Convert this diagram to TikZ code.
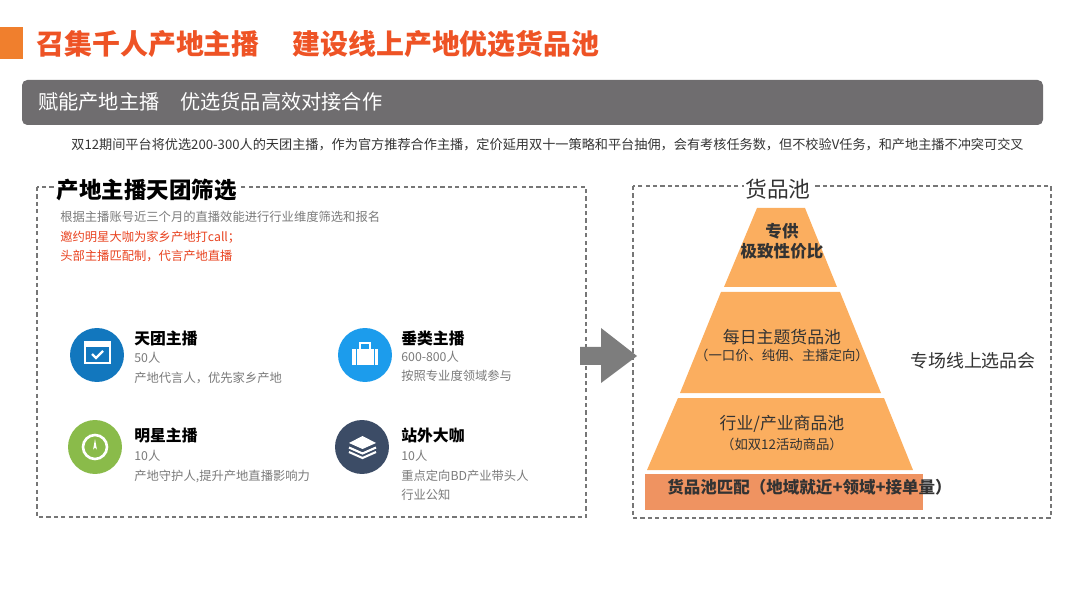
\documentclass[tikz,border=0pt]{standalone}
\usepackage{fontspec}
\setmainfont{Noto Sans CJK SC}
\usepackage{xcolor}
\usetikzlibrary{positioning}
\definecolor{titleorange}{HTML}{F07F2D}
\definecolor{titlered}{HTML}{EE5325}
\definecolor{bandgray}{HTML}{6F6D6F}
\definecolor{dashgray}{HTML}{767676}
\definecolor{textgray}{HTML}{7A7A7A}
\definecolor{noteblack}{HTML}{333333}
\definecolor{alertred}{HTML}{E8421F}
\definecolor{tierorange}{HTML}{FBAE5F}
\definecolor{baseorange}{HTML}{EF9361}
\definecolor{iconblue}{HTML}{1277BE}
\definecolor{iconsky}{HTML}{1C9CEC}
\definecolor{icongreen}{HTML}{8ABB4A}
\definecolor{iconslate}{HTML}{3C4C66}
\definecolor{arrowgray}{HTML}{7D7D7D}

\begin{document}
\begin{tikzpicture}[
    x=0.02cm, y=-0.02cm,
    panel/.style={dashgray, line width=0.95pt, dash pattern=on 2.4pt off 1.8pt},
    small/.style={font=\fontsize{7}{9}\selectfont, text=textgray, anchor=west, inner sep=0pt},
    head/.style={font=\fontsize{9}{11}\selectfont\bfseries, text=black, anchor=west, inner sep=0pt},
    tier/.style={font=\fontsize{9.6}{11}\selectfont, text=noteblack, inner sep=0pt},
    tiersub/.style={font=\fontsize{7.6}{9}\selectfont, text=noteblack, inner sep=0pt},
    tierbold/.style={font=\fontsize{9.4}{11}\selectfont\bfseries, text=noteblack, inner sep=0pt},
    badge/.style={circle, minimum size=1.08cm, inner sep=0pt},
    iconline/.style={white, line width=0.7pt},
]
\useasboundingbox (0,0) rectangle (1080,608);

% Title
\fill[titleorange] (0,27) rectangle (23,59);
\node[font=\fontsize{15.9}{18}\selectfont\bfseries, text=titlered, anchor=west, inner sep=0pt] (title) at (36,44) {召集千人产地主播};
\node[font=\fontsize{15.9}{18}\selectfont\bfseries, text=titlered, anchor=west, inner sep=0pt] (subject) at (292,44) {建设线上产地优选货品池};

% Band
\fill[bandgray, rounded corners=3pt] (22,80) rectangle (1043,125);
\node[font=\fontsize{11.5}{14}\selectfont, text=white, anchor=west, inner sep=0pt] (band) at (38,102) {赋能产地主播};
\node[font=\fontsize{11.5}{14}\selectfont, text=white, anchor=west, inner sep=0pt] (bandb) at (180,102) {优选货品高效对接合作};
\node[font=\fontsize{7.49}{9}\selectfont, text=noteblack, anchor=west, inner sep=0pt] (note) at (71,145) {双12期间平台将优选200-300人的天团主播，作为官方推荐合作主播，定价延用双十一策略和平台抽佣，会有考核任务数，但不校验V任务，和产地主播不冲突可交叉};

% Left panel
\draw[panel] (37,187) rectangle (586,517);
\node[font=\fontsize{12.8}{15}\selectfont\bfseries, text=black, fill=white, inner ysep=0pt, inner xsep=1.5pt, anchor=west] (filter) at (54,190) {产地主播天团筛选};
\node[small] (rule) at (60,217) {根据主播账号近三个月的直播效能进行行业维度筛选和报名};
\node[small, text=alertred] (invite) at (60,237) {邀约明星大咖为家乡产地打call；};
\node[small, text=alertred] (match) at (60,256) {头部主播匹配制，代言产地直播};

% Four groups
\node[badge, fill=iconblue] (tuan) at (97,355) {};
\node[head] (tuanh) at (134,338) {天团主播};
\node[small] (tuana) at (134,358) {50人};
\node[small] (tuanb) at (134,378) {产地代言人，优先家乡产地};

\node[badge, fill=iconsky] (chui) at (365,355) {};
\node[head] (chuih) at (401,338) {垂类主播};
\node[small] (chuia) at (401,357) {600-800人};
\node[small] (chuib) at (401,376) {按照专业度领域参与};

\node[badge, fill=icongreen] (star) at (95,447) {};
\node[head] (starh) at (134,436) {明星主播};
\node[small] (stara) at (134,456) {10人};
\node[small] (starb) at (134,476) {产地守护人,提升产地直播影响力};

\node[badge, fill=iconslate] (out) at (362,447) {};
\node[head] (outh) at (401,436) {站外大咖};
\node[small] (outa) at (401,456) {10人};
\node[small] (outb) at (401,476) {重点定向BD产业带头人};
\node[small] (outc) at (401,495) {行业公知};

% Icons
\draw[iconline] (85,342) rectangle (110,363);
\fill[white] (85,342) rectangle (110,347);
\draw[iconline, line width=1.3pt] (92,354) -- (96,358) -- (103,351);
\fill[white] (352,349) rectangle (378,365);
\draw[iconline, line width=1.1pt] (360,349) -- (360,343) -- (370,343) -- (370,349);
\draw[iconsky, line width=0.5pt] (356,349) -- (356,365) (374,349) -- (374,365);
\draw[white, line width=1.5pt] (95,447) circle (12);
\fill[white] (93,450) -- (95,439) -- (97,450) arc (0:-180:2) -- cycle;
\fill[white] (362.5,436) -- (376,443) -- (362.5,449) -- (349,443) -- cycle;
\draw[white, line width=1.2pt] (349,447.5) -- (362.5,453.5) -- (376,447.5);
\draw[white, line width=1.2pt] (349,452) -- (362.5,458) -- (376,452);

% Right panel
\draw[panel] (633,186) rectangle (1051,518);
\node[font=\fontsize{12.4}{15}\selectfont, text=noteblack, fill=white, inner ysep=0pt, inner xsep=1pt] (pool) at (778,189) {货品池};
\node[font=\fontsize{10.2}{12}\selectfont, text=noteblack, inner sep=0pt] (meet) at (973,361) {专场线上选品会};

% Big arrow
\fill[arrowgray] (580,347) -- (601,347) -- (601,328) -- (637,356) -- (601,383) -- (601,365) -- (580,365) -- cycle;

% Pyramid
\fill[tierorange] (757,208) -- (805,208) -- (837,287) -- (724,287) -- cycle;
\fill[tierorange] (721,292) -- (840,292) -- (881,393) -- (680,393) -- cycle;
\fill[tierorange] (678,398) -- (884,398) -- (913,470) -- (647,470) -- cycle;
\fill[baseorange] (645,474) rectangle (923,510);

\node[tierbold] (top) at (782,231) {专供};
\node[tierbold] (topb) at (782,251) {极致性价比};
\node[tier] (daily) at (782,337) {每日主题货品池};
\node[tiersub] (dailyb) at (782,355) {（一口价、纯佣、主播定向）};
\node[tier] (trade) at (782,424) {行业/产业商品池};
\node[tiersub] (tradeb) at (782,444) {（如双12活动商品）};
\node[tierbold, anchor=west] (base) at (667,487) {货品池匹配（地域就近+领域+接单量）};

\end{tikzpicture}
\end{document}
